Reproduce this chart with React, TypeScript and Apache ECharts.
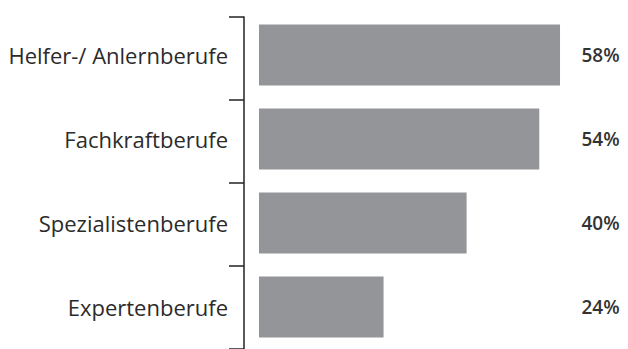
import React, { useEffect, useRef } from "react";
import * as echarts from "echarts";

const categories = ["Helfer-/ Anlernberufe", "Fachkraftberufe", "Spezialistenberufe", "Expertenberufe"];
const values = [58, 54, 40, 24];
const valueLabels = ["58%", "54%", "40%", "24%"];

export default function App() {
  const ref = useRef<HTMLDivElement>(null);
  useEffect(() => {
    if (!ref.current) return;
    const chart = echarts.init(ref.current, null, { renderer: "svg" });
    const font = "'Open Sans', sans-serif";
    chart.setOption({
      animation: false,
      grid: [
        { left: 259, top: 13, width: 311.4, height: 340 },
        { left: 244, top: 17, width: 100, height: 338 },
      ],
      xAxis: [
        { gridIndex: 0, type: "value", min: 0, max: 60, show: false },
        { gridIndex: 1, type: "value", min: 0, max: 60, show: false },
      ],
      yAxis: [
        {
          gridIndex: 0,
          type: "category",
          data: categories,
          inverse: true,
          axisLine: { show: false },
          axisTick: { show: false },
          axisLabel: { margin: 31, color: "#2b2b2b", fontSize: 22, fontFamily: font },
        },
        {
          gridIndex: 0,
          type: "category",
          position: "right",
          data: valueLabels,
          inverse: true,
          axisLine: { show: false },
          axisTick: { show: false },
          axisLabel: { margin: 11, align: "left", color: "#333", fontSize: 19, fontWeight: 600, fontFamily: font },
        },
        {
          gridIndex: 1,
          type: "category",
          data: categories,
          inverse: true,
          axisLine: { show: true, lineStyle: { color: "#222", width: 1.5 } },
          axisTick: { show: true, length: 15, lineStyle: { color: "#222", width: 1.5 } },
          axisLabel: { show: false },
        },
      ],
      series: [
        {
          type: "bar",
          xAxisIndex: 0,
          yAxisIndex: 0,
          data: values,
          barWidth: 61,
          itemStyle: { color: "#939598" },
        },
      ],
    });
    return () => chart.dispose();
  }, []);
  return <div ref={ref} style={{ width: 628, height: 349, position: "absolute", left: 0, top: 0 }} />;
}
